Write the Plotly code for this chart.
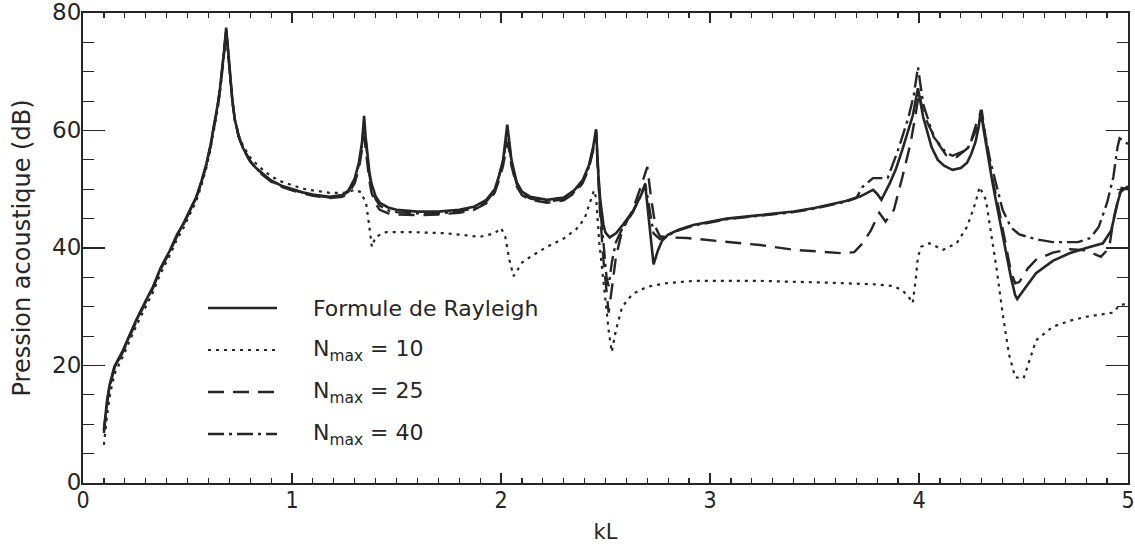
import plotly.graph_objects as go

# ---- Data ----
kl_rayleigh = [0.10, 0.115, 0.128, 0.15, 0.19, 0.254, 0.30, 0.335, 0.37, 0.416, 0.45, 0.478, 0.512, 0.542,
               0.568, 0.59, 0.61, 0.632, 0.645, 0.655, 0.665, 0.675, 0.685, 0.695, 0.704, 0.715, 0.727, 0.745,
               0.766, 0.80, 0.828, 0.86, 0.90, 0.95, 1.00, 1.05, 1.10, 1.18, 1.24, 1.27, 1.30, 1.32, 1.335,
               1.345, 1.352, 1.36, 1.37, 1.38, 1.40, 1.42, 1.46, 1.50, 1.60, 1.70, 1.80, 1.87, 1.93, 1.97,
               1.99, 2.01, 2.03, 2.04, 2.05, 2.075, 2.10, 2.14, 2.22, 2.30, 2.35, 2.39, 2.42, 2.44, 2.455,
               2.465, 2.474, 2.49, 2.50, 2.52, 2.55, 2.58, 2.63, 2.67, 2.69, 2.71, 2.73, 2.75, 2.77, 2.80,
               2.85, 2.92, 3.00, 3.08, 3.24, 3.40, 3.50, 3.56, 3.65, 3.72, 3.78, 3.80, 3.82, 3.86, 3.89,
               3.92, 3.95, 3.97, 3.995, 4.02, 4.06, 4.09, 4.12, 4.16, 4.20, 4.23, 4.25, 4.27, 4.285, 4.296,
               4.31, 4.325, 4.35, 4.37, 4.40, 4.42, 4.44, 4.46, 4.47, 4.50, 4.56, 4.64, 4.72, 4.80, 4.88,
               4.92, 4.95, 4.97, 5.00]
db_rayleigh = [9.0, 14.0, 16.8, 19.8, 22.5, 27.7, 31.0, 33.4, 36.5, 39.6, 42.3, 44.0, 46.5, 48.7,
               51.5, 54.3, 57.5, 61.5, 64.5, 67.0, 70.0, 73.5, 77.5, 73.0, 69.5, 65.0, 61.8, 59.0,
               57.0, 54.8, 53.6, 52.6, 51.5, 50.6, 50.0, 49.5, 49.1, 48.7, 49.0, 49.8, 51.8, 54.5, 58.0,
               62.5, 59.0, 56.0, 53.0, 51.0, 48.8, 47.7, 46.9, 46.5, 46.2, 46.2, 46.5, 47.0, 48.2, 50.0,
               52.2, 55.0, 61.0, 58.0, 55.0, 51.2, 49.6, 48.7, 48.2, 48.6, 49.8, 51.5, 54.0, 57.0, 60.2,
               53.0, 48.5, 44.0, 42.6, 41.8, 42.5, 43.8, 46.2, 49.0, 50.8, 44.0, 37.2, 39.5, 41.2, 42.3,
               43.1, 43.9, 44.5, 45.0, 45.6, 46.2, 46.8, 47.3, 48.0, 48.8, 49.9, 49.2, 48.2, 51.0, 53.5,
               56.7, 60.0, 62.5, 67.2, 62.3, 57.2, 55.0, 54.0, 53.3, 53.6, 54.5, 56.0, 58.0, 60.5, 63.5,
               60.0, 56.7, 51.5, 47.7, 42.0, 38.5, 35.0, 32.0, 31.3, 32.8, 35.7, 37.8, 39.1, 40.0, 40.8,
               43.0, 47.7, 50.2, 50.0]

kl_n10 = [0.10, 0.115, 0.13, 0.15, 0.19, 0.254, 0.30, 0.335, 0.37, 0.416, 0.45, 0.478, 0.512, 0.542,
          0.568, 0.59, 0.61, 0.632, 0.645, 0.655, 0.665, 0.675, 0.685, 0.695, 0.704, 0.715, 0.727, 0.745,
          0.766, 0.80, 0.83, 0.86, 0.90, 0.95, 1.00, 1.05, 1.10, 1.18, 1.26, 1.30, 1.33, 1.355, 1.365,
          1.373, 1.382, 1.40, 1.45, 1.58, 1.74, 1.90, 1.97, 2.00, 2.02, 2.04, 2.06, 2.08, 2.10, 2.14,
          2.22, 2.30, 2.36, 2.40, 2.43, 2.445, 2.455, 2.47, 2.485, 2.50, 2.515, 2.53, 2.55, 2.58, 2.63,
          2.70, 2.79, 2.92, 3.24, 3.56, 3.80, 3.88, 3.92, 3.95, 3.97, 3.985, 3.995, 4.01, 4.05, 4.115,
          4.18, 4.23, 4.27, 4.29, 4.32, 4.34, 4.37, 4.40, 4.43, 4.46, 4.50, 4.53, 4.56, 4.64, 4.72,
          4.80, 4.93, 4.96, 5.00]
db_n10 = [6.5, 11.5, 15.2, 18.5, 21.5, 26.7, 30.0, 32.5, 35.6, 38.8, 41.5, 43.2, 45.8, 48.0,
          50.8, 53.6, 56.8, 60.8, 63.8, 66.3, 69.3, 72.8, 76.5, 72.5, 69.0, 64.8, 61.8, 59.2,
          57.4, 55.4, 54.3, 53.3, 52.2, 51.3, 50.7, 50.1, 49.8, 49.4, 49.4, 49.9, 49.5, 47.5, 45.0,
          43.0, 40.2, 41.9, 42.7, 42.7, 42.5, 41.9, 42.5, 43.4, 42.0, 38.0, 35.2, 36.3, 37.5, 38.5,
          40.2, 41.6, 43.2, 45.0, 48.0, 49.8, 48.5, 41.0, 36.0, 31.0, 26.0, 22.3, 26.0, 30.0, 32.2,
          33.4, 34.0, 34.4, 34.4, 34.1, 33.8, 33.5, 32.8, 31.7, 30.6, 35.0, 38.5, 40.2, 40.8, 39.7,
          40.8, 43.6, 47.7, 50.4, 48.2, 43.6, 36.8, 28.9, 22.0, 18.0, 17.8, 21.0, 24.3, 26.6, 27.6,
          28.3, 29.0, 30.3, 30.5]

kl_n25 = [0.10, 0.115, 0.128, 0.15, 0.19, 0.254, 0.30, 0.335, 0.37, 0.416, 0.45, 0.478, 0.512, 0.542,
          0.568, 0.59, 0.61, 0.632, 0.645, 0.655, 0.665, 0.675, 0.685, 0.695, 0.704, 0.715, 0.727, 0.745,
          0.766, 0.80, 0.83, 0.86, 0.90, 0.95, 1.00, 1.05, 1.10, 1.18, 1.24, 1.27, 1.30, 1.32, 1.335,
          1.345, 1.352, 1.36, 1.37, 1.38, 1.40, 1.42, 1.46, 1.50, 1.60, 1.70, 1.80, 1.87, 1.93, 1.97,
          1.99, 2.01, 2.03, 2.04, 2.05, 2.075, 2.10, 2.14, 2.22, 2.30, 2.35, 2.39, 2.42, 2.44, 2.455,
          2.465, 2.474, 2.49, 2.505, 2.515, 2.53, 2.55, 2.58, 2.63, 2.67, 2.70, 2.72, 2.74, 2.76, 2.80,
          2.89, 3.08, 3.24, 3.40, 3.55, 3.64, 3.69, 3.73, 3.77, 3.81, 3.84, 3.88, 3.92, 3.96, 3.985,
          4.00, 4.02, 4.05, 4.09, 4.13, 4.18, 4.24, 4.28, 4.30, 4.32, 4.35, 4.38, 4.42, 4.44, 4.46,
          4.48, 4.52, 4.56, 4.64, 4.72, 4.80, 4.87, 4.91, 4.93, 4.96, 5.00]
db_n25 = [8.5, 13.5, 16.4, 19.4, 22.2, 27.4, 30.8, 33.2, 36.3, 39.4, 42.0, 43.8, 46.3, 48.5,
          51.3, 54.0, 57.2, 61.2, 64.2, 66.8, 69.8, 73.2, 77.0, 72.8, 69.3, 64.9, 61.7, 58.9,
          56.9, 54.7, 53.4, 52.4, 51.3, 50.4, 49.8, 49.3, 48.9, 48.5, 48.7, 49.3, 51.0, 53.5, 56.5,
          59.0, 57.0, 54.5, 51.5, 49.5, 47.5, 46.5, 45.9, 45.7, 45.6, 45.7, 46.0, 46.5, 47.6, 49.4,
          51.5, 54.0, 58.0, 56.5, 54.0, 50.5, 49.0, 48.2, 47.7, 48.1, 49.3, 51.0, 53.5, 56.5, 59.5,
          52.0, 46.0, 38.0, 32.0, 29.0, 33.0, 38.5, 43.0, 46.5, 50.5, 53.8, 48.0, 43.5, 42.0, 41.8,
          41.7, 41.0, 40.5, 39.7, 39.3, 39.1, 39.3, 40.8, 43.0, 46.0, 44.5, 46.5, 52.0, 57.9, 63.0,
          66.4, 63.0, 60.6, 57.9, 55.8, 55.5, 57.2, 61.8, 63.5, 58.5, 52.0, 47.0, 40.0, 36.0, 34.0,
          34.2, 36.5, 38.0, 39.2, 39.8, 39.6, 38.5, 40.0, 44.8, 49.4, 50.5]

kl_n40 = [0.10, 0.115, 0.128, 0.15, 0.19, 0.254, 0.30, 0.335, 0.37, 0.416, 0.45, 0.478, 0.512, 0.542,
          0.568, 0.59, 0.61, 0.632, 0.645, 0.655, 0.665, 0.675, 0.685, 0.695, 0.704, 0.715, 0.727, 0.745,
          0.766, 0.80, 0.83, 0.86, 0.90, 0.95, 1.00, 1.05, 1.10, 1.18, 1.24, 1.27, 1.30, 1.32, 1.335,
          1.345, 1.352, 1.36, 1.37, 1.38, 1.40, 1.42, 1.46, 1.50, 1.60, 1.70, 1.80, 1.87, 1.93, 1.97,
          1.99, 2.01, 2.03, 2.04, 2.05, 2.075, 2.10, 2.14, 2.22, 2.30, 2.35, 2.39, 2.42, 2.44, 2.455,
          2.465, 2.474, 2.49, 2.505, 2.515, 2.53, 2.55, 2.58, 2.63, 2.67, 2.69, 2.71, 2.73, 2.76, 2.80,
          2.85, 2.92, 3.00, 3.08, 3.24, 3.40, 3.50, 3.56, 3.65, 3.70, 3.73, 3.78, 3.85, 3.90, 3.95,
          3.975, 3.995, 4.02, 4.07, 4.13, 4.16, 4.23, 4.28, 4.30, 4.32, 4.34, 4.40, 4.44, 4.48, 4.56,
          4.64, 4.76, 4.82, 4.86, 4.90, 4.93, 4.95, 4.96, 5.00]
db_n40 = [8.8, 13.8, 16.6, 19.6, 22.4, 27.6, 30.9, 33.3, 36.4, 39.5, 42.2, 43.9, 46.4, 48.6,
          51.4, 54.2, 57.4, 61.4, 64.4, 66.9, 69.9, 73.4, 77.3, 72.9, 69.4, 65.0, 61.8, 59.0,
          57.0, 54.8, 53.5, 52.5, 51.4, 50.5, 49.9, 49.4, 49.0, 48.6, 48.9, 49.6, 51.5, 54.2, 57.5,
          61.0, 58.5, 55.5, 52.5, 50.5, 48.3, 47.2, 46.4, 46.1, 45.9, 45.9, 46.2, 46.8, 47.9, 49.7,
          52.0, 54.7, 59.5, 57.5, 54.5, 50.9, 49.3, 48.4, 47.9, 48.3, 49.5, 51.2, 53.7, 56.8, 60.0,
          52.5, 47.0, 41.0, 35.0, 33.5, 37.5, 41.0, 43.3, 46.0, 49.0, 51.0, 46.5, 42.5, 41.5, 42.2,
          43.0, 43.8, 44.4, 44.9, 45.5, 46.1, 46.7, 47.2, 47.9, 48.5, 50.4, 51.9, 51.9, 56.7, 62.3,
          66.0, 70.8, 64.5, 58.9, 56.2, 55.7, 56.7, 60.6, 62.5, 59.0, 55.0, 46.5, 43.5, 42.3, 41.5,
          41.0, 41.0, 41.7, 43.6, 47.7, 52.1, 57.2, 58.7, 57.7]

series_names = ["Formule de Rayleigh", "N<sub>max</sub> = 10", "N<sub>max</sub> = 25", "N<sub>max</sub> = 40"]
x_tick_vals = [0, 1, 2, 3, 4, 5]
y_tick_vals = [0, 20, 40, 60, 80]

# ---- Style ----
INK = "#262626"
FONT = "DejaVu Sans"
dashes = ["solid", "3px,5px", "16px,9px", "16px,5px,3px,5px"]
widths = [2.6, 2.2, 2.4, 2.4]

fig = go.Figure()
data = [(kl_rayleigh, db_rayleigh), (kl_n10, db_n10), (kl_n25, db_n25), (kl_n40, db_n40)]
for (xs, ys), name, dsh, w in zip(data, series_names, dashes, widths):
    fig.add_trace(go.Scatter(x=xs, y=ys, mode="lines", name=name,
                             line=dict(color=INK, width=w, dash=dsh),
                             showlegend=False, hoverinfo="skip"))

# Plot box in page pixels (page body margin is removed below)
FIG_W, FIG_H = 1135, 546
L, R, T, B = 83, 1128, 13, 483
W, H = R - L, B - T
def px(x): return (x - L) / W   # page px -> paper
def py(y): return (B - y) / H

# ---- Hand-made legend (long line samples as in the reference) ----
legend_rows = [308, 350, 392, 434]
for name, dsh, w, yy in zip(series_names, dashes, widths, legend_rows):
    fig.add_shape(type="line", xref="paper", yref="paper",
                  x0=px(208), x1=px(277), y0=py(yy), y1=py(yy),
                  line=dict(color=INK, width=w, dash=dsh))
    fig.add_annotation(xref="paper", yref="paper", x=px(311), y=py(yy),
                       text=name, showarrow=False, xanchor="left", yanchor="middle",
                       font=dict(family=FONT, size=22, color=INK))

axis_common = dict(showline=True, linewidth=2, linecolor=INK, mirror="allticks",
                   ticks="inside", tickcolor=INK, tickwidth=1.6, showgrid=False,
                   zeroline=False, ticklabeloverflow="allow")

fig.update_xaxes(range=[0, 5], tickvals=x_tick_vals, ticklen=10,
                 tickfont=dict(family="DejaVu Sans Condensed, DejaVu Sans", size=23, color=INK),
                 ticklabelstandoff=-5,
                 minor=dict(dtick=0.1, ticklen=5, ticks="inside", tickcolor=INK, tickwidth=1.2, showgrid=False),
                 title=dict(text="kL", font=dict(family=FONT, size=21, color=INK), standoff=13),
                 **axis_common)
fig.update_yaxes(range=[0, 80], tickvals=y_tick_vals, ticklen=22,
                 tickfont=dict(family=FONT, size=23, color=INK), ticklabelstandoff=-5, ticklabelshift=-1,
                 minor=dict(dtick=5, ticklen=11, ticks="inside", tickcolor=INK, tickwidth=1.2, showgrid=False),
                 title=dict(text="Pression acoustique (dB)", font=dict(family=FONT, size=24, color=INK), standoff=15),
                 **axis_common)

fig.update_layout(width=FIG_W, height=FIG_H, autosize=False,
                  margin=dict(l=L, r=FIG_W - R, t=T, b=FIG_H - B, autoexpand=False),
                  paper_bgcolor="white", plot_bgcolor="white",
                  font=dict(family=FONT, color=INK))

fig.write_html("out.html", config={"displayModeBar": False, "staticPlot": True},
               post_script="document.body.style.margin='0';document.body.style.overflow='hidden';")
